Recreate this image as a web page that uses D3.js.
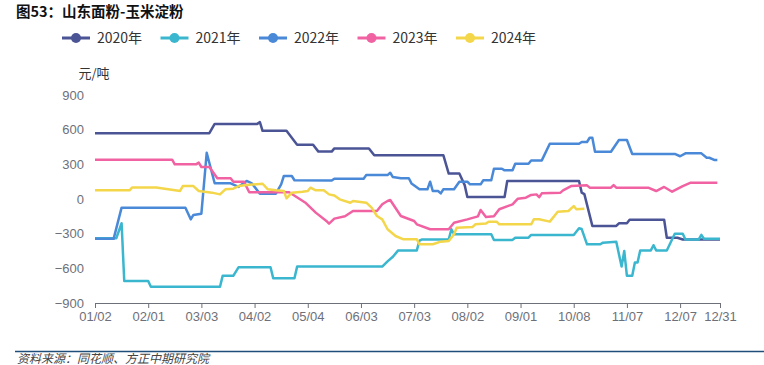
<!DOCTYPE html>
<html>
<head>
<meta charset="utf-8">
<script src="https://cdn.jsdelivr.net/npm/d3@7"></script>
<style>
	body { margin: 0; background: #fff; }
	svg { display: block; font-family: "Noto Sans CJK SC", "Noto Sans", sans-serif; }
</style>
</head>
<body>
<svg id="chart" width="764" height="365"></svg>
<script>

// x = trading-day index (0..235), y = 元/吨
const xTickIdx = [0, 20, 40, 60, 80, 100, 120, 140, 160, 180, 200, 220, 235];
const xLabels = ['01/02', '02/01', '03/03', '04/02', '05/04', '06/03', '07/03', '08/02', '09/01', '10/08', '11/07', '12/07', '12/31'];
const yTicks = [-900, -600, -300, 0, 300, 600, 900];

const years = ['2020年', '2021年', '2022年', '2023年', '2024年'];
const colors = ['#4b5596', '#3bb6cf', '#4a89d8', '#f162a3', '#f4d64b'];

const s2020 = [[0,570],[43,570],[45,650],[61,650],[62,665],[63,590],[72,590],[76,470],[82,470],[84,410],[89,410],[90,438],[103,438],[105,378],[131,378],[133,220],[137,220],[139,120],[140,17],[154,17],[155,156],[182,156],[183,55],[184,42],[187,-233],[196,-233],[197,-210],[200,-210],[201,-180],[214,-180],[215,-335],[219,-335],[221,-350],[235,-350]];

const s2021 = [[0,-340],[8,-340],[10,-210],[11,-710],[20,-710],[21,-760],[47,-760],[48,-665],[52,-665],[54,-590],[66,-590],[67,-685],[75,-685],[76,-585],[108,-585],[110,-540],[112,-500],[114,-445],[121,-445],[122,-360],[123,-350],[133,-350],[134,-262],[135,-305],[149,-305],[150,-354],[157,-354],[158,-335],[163,-335],[164,-311],[180,-311],[182,-253],[183,-260],[185,-392],[190,-392],[191,-378],[196,-370],[198,-585],[199,-450],[200,-665],[202,-665],[203,-550],[204,-550],[205,-445],[209,-445],[210,-400],[211,-445],[215,-445],[218,-300],[221,-300],[222,-350],[227,-350],[228,-310],[229,-345],[235,-345]];

const s2022 = [[0,-345],[7,-345],[10,-75],[34,-75],[36,-176],[37,-138],[40,-127],[42,400],[45,136],[51,136],[54,105],[57,156],[59,135],[62,46],[68,46],[70,127],[71,199],[74,199],[75,162],[89,160],[90,176],[101,176],[102,207],[110,207],[111,227],[112,190],[115,180],[118,180],[119,135],[122,84],[125,84],[126,150],[127,69],[129,69],[130,49],[131,84],[135,84],[137,150],[140,150],[141,127],[145,127],[146,162],[149,162],[150,262],[153,262],[154,248],[157,248],[158,305],[163,305],[164,334],[168,334],[171,478],[182,478],[183,493],[185,493],[186,530],[187,530],[188,409],[194,409],[197,510],[200,510],[202,390],[218,390],[220,370],[222,395],[228,395],[230,357],[231,357],[233,337],[234,337]];

const s2023 = [[0,340],[29,340],[30,300],[38,300],[39,315],[40,277],[43,277],[46,180],[51,180],[52,150],[56,150],[58,58],[73,58],[79,-30],[83,-118],[87,-190],[88,-213],[90,-170],[94,-150],[97,-104],[106,-104],[108,-46],[110,-17],[111,-9],[115,-147],[120,-190],[121,-219],[126,-262],[133,-262],[135,-205],[140,-176],[144,-150],[145,-95],[147,-156],[150,-150],[152,-89],[157,-46],[159,3],[162,11],[164,35],[166,40],[167,15],[168,49],[175,55],[176,75],[179,112],[185,118],[186,98],[194,98],[195,121],[196,98],[208,98],[211,69],[214,104],[217,63],[221,112],[224,141],[234,141]];

const s2024 = [[0,75],[13,75],[14,100],[23,100],[32,70],[33,112],[37,112],[39,69],[44,55],[47,40],[49,84],[52,89],[54,112],[57,121],[63,132],[65,84],[68,75],[71,70],[72,6],[74,55],[78,63],[80,69],[81,98],[83,75],[86,75],[88,40],[90,30],[92,-3],[96,-32],[97,-17],[102,-32],[104,-75],[106,-147],[108,-176],[110,-262],[113,-320],[116,-349],[121,-349],[122,-392],[127,-392],[130,-369],[133,-363],[135,-305],[136,-248],[142,-242],[143,-219],[147,-213],[148,-196],[151,-196],[152,-219],[164,-219],[165,-176],[167,-176],[171,-196],[174,-110],[178,-104],[180,-61],[181,-89],[184,-84]];

const series = [s2020, s2021, s2022, s2023, s2024];

let svg = d3.select('#chart');

let x = d3.scaleLinear()
	.domain([0, 235])
	.range([95, 720]);

let y = d3.scaleLinear()
	.domain([-900, 900])
	.range([303, 95]);

// title
svg.append('text')
	.attr('x', 16)
	.attr('y', 17)
	.attr('font-size', 14.5)
	.attr('font-weight', 'bold')
	.attr('fill', '#111')
	.text('图53：山东面粉-玉米淀粉');

// legend
let legend = svg.append('g');
years.forEach(function(name, i) {
	let lx = 62 + i * 98.5;
	let g = legend.append('g').attr('transform', `translate(${lx},38)`);
	g.append('line')
		.attr('x1', 0).attr('x2', 28)
		.attr('stroke', colors[i])
		.attr('stroke-width', 3);
	g.append('circle')
		.attr('cx', 14)
		.attr('r', 5)
		.attr('fill', colors[i]);
	g.append('text')
		.attr('x', 35)
		.attr('dy', '0.35em')
		.attr('font-size', 14)
		.attr('fill', '#333')
		.text(name);
});

// y axis (labels only)
svg.append('text')
	.attr('x', 94)
	.attr('y', 73)
	.attr('dy', '0.35em')
	.attr('text-anchor', 'middle')
	.attr('font-size', 13)
	.attr('fill', '#333')
	.text('元/吨');

svg.append('g')
	.attr('transform', 'translate(95,0)')
	.call(d3.axisLeft(y).tickValues(yTicks).tickSize(0).tickPadding(11))
	.call(g => g.select('.domain').remove())
	.call(g => g.selectAll('text')
		.attr('font-size', 13)
		.attr('font-family', 'inherit')
		.attr('fill', '#6e7079'));

// x axis
svg.append('g')
	.attr('transform', 'translate(0,303)')
	.call(d3.axisBottom(x)
		.tickValues(xTickIdx)
		.tickFormat((d, i) => xLabels[i])
		.tickSize(5)
		.tickSizeOuter(0)
		.tickPadding(4))
	.call(g => g.select('.domain').attr('stroke', '#6e7079'))
	.call(g => g.selectAll('line').attr('stroke', '#6e7079'))
	.call(g => g.selectAll('text')
		.attr('font-size', 13)
		.attr('font-family', 'inherit')
		.attr('fill', '#6e7079'));

// series lines
let line = d3.line()
	.x(d => x(d[0]))
	.y(d => y(d[1]));

series.forEach(function(data, i) {
	svg.append('path')
		.datum(data)
		.attr('fill', 'none')
		.attr('stroke', colors[i])
		.attr('stroke-width', 2.5)
		.attr('stroke-linejoin', 'round')
		.attr('d', line);
});

// footer
svg.append('line')
	.attr('x1', 15).attr('x2', 764)
	.attr('y1', 351.5).attr('y2', 351.5)
	.attr('stroke', '#1f4e79')
	.attr('stroke-width', 1.5);

svg.append('text')
	.attr('x', 17)
	.attr('y', 363)
	.attr('font-size', 12)
	.attr('font-style', 'italic')
	.attr('fill', '#444')
	.text('资料来源：同花顺、方正中期研究院');

</script>
</body>
</html>
